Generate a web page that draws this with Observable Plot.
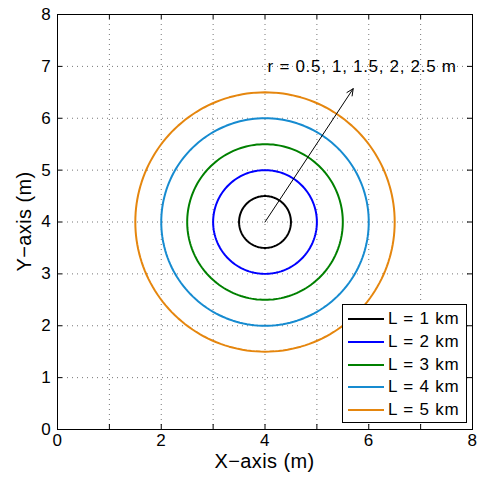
<!DOCTYPE html>
<html>
<head>
<meta charset="utf-8">
<script src="https://cdn.jsdelivr.net/npm/d3@7"></script>
<script src="https://cdn.jsdelivr.net/npm/@observablehq/plot@0.6"></script>
<style>
  html, body { margin: 0; padding: 0; background: #fff; }
  #wrap { position: relative; width: 477px; height: 479px; font-family: "Liberation Sans", Arial, sans-serif; }
  #legend { position: absolute; left: 342px; top: 304px; width: 125px; height: 119px; border: 1px solid #000; background: #fff; box-sizing: border-box; padding-top: 3px; }
  .row { display: flex; align-items: center; height: 22.7px; font-size: 17px; letter-spacing: 0.8px; color: #000; white-space: nowrap; }
  .sw { width: 36px; height: 0; border-top: 2px solid; margin-left: 5px; margin-right: 4px; }
</style>
</head>
<body>
<div id="wrap"><div id="chart"></div><div id="legend"></div></div>
<script>
// Data
const labels = ["L = 1 km", "L = 2 km", "L = 3 km", "L = 4 km", "L = 5 km"];
const radii = [0.5, 1, 1.5, 2, 2.5];
const colors = ["#000000", "#0000ff", "#008000", "#168bd0", "#e5860e"];
const center = [4, 4];
const arrowTip = [5.7, 6.57];
const annotation = { x: 4.05, y: 7, text: "r = 0.5, 1, 1.5, 2, 2.5 m" };
const xTickLabels = [0, 2, 4, 6, 8];
const yTickLabels = [0, 1, 2, 3, 4, 5, 6, 7, 8];
const gridTicks = [1, 2, 3, 4, 5, 6, 7];

const W = 477, H = 479, mL = 57, mR = 5, mT = 14, mB = 50;
const plotW = W - mL - mR, plotH = H - mT - mB;

// circle geometry built from each radius
const circlePts = [];
radii.forEach((r, i) => {
  for (let k = 0; k <= 360; k += 2) {
    const a = k * Math.PI / 180;
    circlePts.push({ s: labels[i], x: center[0] + r * Math.cos(a), y: center[1] + r * Math.sin(a) });
  }
});

const font = "Liberation Sans, Arial, sans-serif";
const allTicks = d3.range(0, 9);

const chart = Plot.plot({
  width: W, height: H,
  marginLeft: mL, marginRight: mR, marginTop: mT, marginBottom: mB,
  style: { fontFamily: font, background: "#fff" },
  x: { domain: [0, 8] },
  y: { domain: [0, 8] },
  color: { domain: labels, range: colors },
  marks: [
    Plot.gridX(gridTicks, { stroke: "#555", strokeOpacity: 0.8, strokeDasharray: "1,4" }),
    Plot.gridY(gridTicks, { stroke: "#555", strokeOpacity: 0.8, strokeDasharray: "1,4" }),
    // inward ticks
    Plot.tickX(allTicks, { x: d => d, insetTop: plotH - 5, stroke: "#000" }),
    Plot.tickX(allTicks, { x: d => d, insetBottom: plotH - 5, stroke: "#000" }),
    Plot.tickY(allTicks, { y: d => d, insetRight: plotW - 5, stroke: "#000" }),
    Plot.tickY(allTicks, { y: d => d, insetLeft: plotW - 5, stroke: "#000" }),
    Plot.axisX(xTickLabels, { tickSize: 0, tickPadding: 4, fontSize: 17, fill: "#000", label: null, tickFormat: d3.format("d") }),
    Plot.axisY(yTickLabels, { tickSize: 0, tickPadding: 6, fontSize: 17, fill: "#000", label: null, tickFormat: d3.format("d") }),
    Plot.line(circlePts, { x: "x", y: "y", z: "s", stroke: "s", strokeWidth: 2 }),
    Plot.arrow([{ x1: center[0], y1: center[1], x2: arrowTip[0], y2: arrowTip[1] }],
      { x1: "x1", y1: "y1", x2: "x2", y2: "y2", stroke: "#000", strokeWidth: 1, headLength: 11, headAngle: 50 }),
    Plot.text([annotation], { x: "x", y: "y", text: "text", textAnchor: "start", fontSize: 17, fill: "#000" }),
    Plot.frame({ stroke: "#000", strokeWidth: 1 })
  ]
});
const svg = d3.select(chart);
svg.selectAll("text").attr("letter-spacing", "0.7px");
svg.append("text").attr("x", mL + plotW / 2).attr("y", 468).attr("text-anchor", "middle")
  .attr("font-size", 20).attr("letter-spacing", "0.4px").attr("font-family", font).attr("fill", "#000").text("X\u2212axis (m)");
svg.append("text").attr("transform", `translate(31,${mT + plotH / 2}) rotate(-90)`).attr("text-anchor", "middle")
  .attr("font-size", 20).attr("letter-spacing", "0.4px").attr("font-family", font).attr("fill", "#000").text("Y\u2212axis (m)");
document.getElementById("chart").appendChild(chart);

const legend = document.getElementById("legend");
labels.forEach((l, i) => {
  const row = document.createElement("div");
  row.className = "row";
  const sw = document.createElement("span");
  sw.className = "sw";
  sw.style.borderTopColor = colors[i];
  row.appendChild(sw);
  row.appendChild(document.createTextNode(l));
  legend.appendChild(row);
});
</script>
</body>
</html>
